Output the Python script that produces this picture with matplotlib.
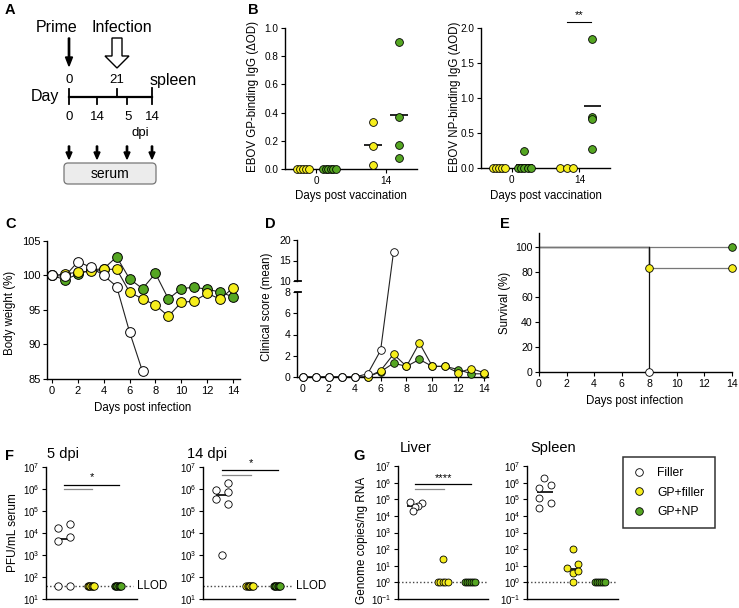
import numpy as np
import matplotlib
matplotlib.use("Agg")
import matplotlib.pyplot as plt
from matplotlib.patches import FancyArrow, FancyBboxPatch
from matplotlib.lines import Line2D
from matplotlib.ticker import NullLocator, FixedLocator

plt.rcParams['font.family'] = ['Liberation Sans', 'DejaVu Sans']
plt.rcParams['font.size'] = 7
plt.rcParams['axes.linewidth'] = 1.0
plt.rcParams['xtick.major.size'] = 3
plt.rcParams['ytick.major.size'] = 3
plt.rcParams['xtick.major.pad'] = 2
plt.rcParams['ytick.major.pad'] = 1.5
plt.rcParams['xtick.labelsize'] = 7.2
plt.rcParams['ytick.labelsize'] = 7.2

# ---------------- data ----------------
groups = ['Filler', 'GP+filler', 'GP+NP']

# B: binding IgG (dOD), day 0 and day 14 post vaccination
b_days = ['0', '14']
gp_gpf = [[0, 0, 0, 0, 0], [0.33, 0.16, 0.03]]
gp_gpnp = [[0, 0, 0, 0, 0, 0], [0.90, 0.37, 0.17, 0.08]]
np_gpf = [[0, 0, 0, 0, 0], [0, 0, 0]]
np_gpnp = [[0.25, 0, 0, 0, 0, 0], [1.85, 0.73, 0.70, 0.27]]

# C: body weight (%)
days = list(range(15))
bw_filler = [100, 99.9, 102.0, 101.2, 100.0, 98.4, 91.8, 86.1]
bw_gpf = [100, 100.2, 100.5, 100.6, 100.9, 100.9, 97.6, 96.6, 95.7, 94.1,
          96.1, 96.3, 97.4, 96.6, 98.2]
bw_gpnp = [100, 99.4, 100.2, 100.8, 101.0, 102.7, 99.5, 98.1, 100.3, 96.6,
           98.1, 98.3, 98.0, 97.6, 96.9]

# D: clinical score (mean)
cs_filler = [0, 0, 0, 0, 0, 0.3, 2.5, 17.1]
cs_gpf = [0, 0, 0, 0, 0, 0, 0.6, 2.15, 1.0, 3.2, 1.0, 1.0, 0.4, 0.8, 0.4]
cs_gpnp = [0, 0, 0, 0, 0, 0, 0.5, 1.3, 1.0, 1.65, 1.0, 1.0, 0.7, 0.3, 0.3]

# E: survival (%)
sv_filler_t, sv_filler = [0, 8], [100, 0]
sv_gpf_t, sv_gpf = [0, 8, 14], [100, 83.3, 83.3]
sv_gpnp_t, sv_gpnp = [0, 14], [100, 100]

# F: PFU/mL serum
llod = 40
f5_filler = [1.7e4, 4.2e3, 40, 2.6e4, 6.8e3, 40]
f5_gpf = [40] * 6
f5_gpnp = [40] * 6
f14_filler = [9e5, 3.5e5, 1.8e6, 7e5, 2.1e5, 1e3]
f14_gpf = [40] * 6
f14_gpnp = [40] * 6

# G: genome copies/ng RNA
g_lod = 1
liv_filler = [6.6e4, 5.8e4, 3.9e4, 3.4e4, 1.9e4]
liv_gpf = [25, 1, 1, 1, 1, 1]
liv_gpnp = [1] * 6
spl_filler = [2e6, 7e5, 4.6e5, 1.2e5, 6e4, 2.8e4]
spl_gpf = [95, 7.3, 13, 3.7, 4.9, 1]
spl_gpnp = [1] * 6

# ---------------- layout / style ----------------
W, H = 739, 608
YEL = '#F6EE1C'
GRN = '#55A622'
COLS = ['white', YEL, GRN]
LAB = 8.3

# horizontal jitter of the scattered filler points (in group widths)
f5_filler_dx = [-0.22, -0.22, -0.22, 0.22, 0.22, 0.22]
f14_filler_dx = [-0.22, -0.22, 0.22, 0.22, 0.22, 0.0]
liv_filler_dx = [-0.18, 0.25, 0.11, 0.0, -0.07]
spl_filler_dx = [-0.04, 0.22, -0.22, -0.22, 0.22, -0.22]
spl_gpf_dx = [0.0, -0.2, 0.2, 0.0, 0.2, 0.0]

fig = plt.figure(figsize=(W / 100, H / 100), dpi=100)


def px_axes(x0, y0, x1, y1):
    ax = fig.add_axes([x0 / W, 1 - y1 / H, (x1 - x0) / W, (y1 - y0) / H])
    ax.spines['top'].set_visible(False)
    ax.spines['right'].set_visible(False)
    ax.patch.set_alpha(0)
    return ax


def ftext(x, y, s, **kw):
    fig.text(x / W, 1 - y / H, s, **kw)


def spread(vals, w):
    vals = np.asarray(vals, float)
    dx = np.zeros(len(vals))
    for v in np.unique(vals):
        idx = np.where(vals == v)[0]
        if len(idx) > 1:
            dx[idx] = np.linspace(-w, w, len(idx))
    return dx


def dots(ax, x, vals, color, ms, dx=None, w=0.0, z=3):
    vals = np.asarray(vals, float)
    if dx is None:
        dx = spread(vals, w)
    ax.plot(x + np.asarray(dx), vals, 'o', ms=ms, mfc=color, mec='black',
            mew=0.6, ls='none', clip_on=False, zorder=z)


def bar(ax, x, y, hw, lw=1.2):
    ax.plot([x - hw, x + hw], [y, y], color='black', lw=lw, zorder=2,
            clip_on=False, solid_capstyle='butt')


# ---------------- panel A (schematic) ----------------
ov = fig.add_axes([0, 0, 1, 1])
ov.set_xlim(0, W)
ov.set_ylim(H, 0)
ov.axis('off')
ov.text(57, 27, 'Prime', fontsize=11.5, ha='center', va='center')
ov.text(122, 27, 'Infection', fontsize=11.5, ha='center', va='center')
ov.add_patch(FancyArrow(69, 38, 0, 28, width=1.3, head_width=7, head_length=9,
                        length_includes_head=True, color='black'))
ov.add_patch(FancyArrow(117, 38, 0, 30, width=10, head_width=24, head_length=12,
                        length_includes_head=True, fc='white', ec='black', lw=1.0))
ov.text(69, 80, '0', fontsize=9.5, ha='center', va='center')
ov.text(117, 80, '21', fontsize=9.5, ha='center', va='center')
ov.text(150, 80, 'spleen', fontsize=11.5, ha='left', va='center')
ov.text(45, 96, 'Day', fontsize=11.5, ha='center', va='center')
ov.plot([69, 152], [97, 97], color='black', lw=1.6)
for xx, ya, yb in [(69, 89, 104), (97, 97, 104), (117, 89, 97),
                   (127, 97, 104), (152, 88, 104)]:
    ov.plot([xx, xx], [ya, yb], color='black', lw=1.3)
for xx, s in [(69, '0'), (97, '14'), (128, '5'), (152, '14')]:
    ov.text(xx, 117, s, fontsize=9.5, ha='center', va='center')
ov.text(140, 133, 'dpi', fontsize=9.5, ha='center', va='center')
for xx in [69, 97, 127, 152]:
    ov.add_patch(FancyArrow(xx, 146, 0, 13, width=1.3, head_width=6, head_length=7,
                            length_includes_head=True, color='black'))
ov.add_patch(FancyBboxPatch((64, 163), 92, 21, boxstyle='round,pad=0,rounding_size=4',
                            fc='#ececec', ec='#777777', lw=0.9))
ov.text(110, 173.5, 'serum', fontsize=10, ha='center', va='center')

# panel letters
for x, y, s in [(5, 10, 'A'), (248, 10, 'B'), (5, 224, 'C'), (265, 224, 'D'),
                (500, 224, 'E'), (5, 456, 'F'), (353, 456, 'G')]:
    ftext(x, y, s, fontsize=10.5, fontweight='bold', ha='left', va='center')

# ---------------- panel B ----------------
for box, d_gpf, d_gpnp, ymax, ystep, lab, lx in [
        ((285, 28, 417, 169), gp_gpf, gp_gpnp, 1.0, 0.2,
         'EBOV GP-binding IgG (\u0394OD)', 253),
        ((481, 28, 610, 168), np_gpf, np_gpnp, 2.0, 0.5,
         'EBOV NP-binding IgG (\u0394OD)', 455)]:
    ax = px_axes(*box)
    ax.set_ylim(0, ymax)
    ax.set_xlim(-0.45, 1.45)
    ax.set_yticks(np.arange(0, ymax + 1e-9, ystep))
    ax.yaxis.set_major_formatter(plt.FormatStrFormatter('%.1f'))
    ax.set_xticks([0, 1])
    ax.set_xticklabels(b_days)
    for i in range(2):
        for vals, col, off in [(d_gpf[i], YEL, -0.19), (d_gpnp[i], GRN, 0.19)]:
            bar(ax, i + off, np.mean(vals), 0.13)
            dots(ax, i + off, vals, col, 5.6, w=0.09)
    ftext(lx, 97, lab, rotation=90, ha='center', va='center', fontsize=LAB)
    ftext((box[0] + box[2]) / 2, 196, 'Days post vaccination', ha='center',
          va='center', fontsize=LAB)
    if ymax == 2.0:
        ax.plot([0.81, 1.17], [2.08, 2.08], color='black', lw=0.8, clip_on=False)
        ax.text(0.99, 2.12, '**', ha='center', va='bottom', fontsize=8)

# ---------------- panel C ----------------
ax = px_axes(47, 241, 240, 379)
ax.set_xlim(-0.39, 14.54)
ax.set_ylim(85, 105)
ax.set_xticks(range(0, 15, 2))
ax.set_yticks(range(85, 106, 5))
ax.tick_params(labelsize=8)
for vals, col in [(bw_gpnp, GRN), (bw_gpf, YEL), (bw_filler, 'white')]:
    ax.plot(days[:len(vals)], vals, '-o', color='#222222', lw=0.8, ms=7,
            mfc=col, mec='black', mew=0.7, clip_on=False)
ftext(10, 313, 'Body weight (%)', rotation=90, ha='center', va='center', fontsize=LAB)
ftext(143, 408, 'Days post infection', ha='center', va='center', fontsize=LAB)


# ---------------- panel D (broken y axis) ----------------
def d_fwd(y):
    y = np.asarray(y, float)
    return np.where(y <= 8, y * 10.625,
                    np.where(y <= 10, 85 + (y - 8) * 5.5, 96 + (y - 10) * 4.1))


def d_inv(p):
    p = np.asarray(p, float)
    return np.where(p <= 85, p / 10.625,
                    np.where(p <= 96, 8 + (p - 85) / 5.5, 10 + (p - 96) / 4.1))


ax = px_axes(297, 240, 488, 377)
ax.set_yscale('function', functions=(d_fwd, d_inv))
ax.set_xlim(-0.46, 14.3)
ax.set_ylim(0, 20)
ax.yaxis.set_major_locator(FixedLocator([0, 2, 4, 6, 8, 10, 15, 20]))
ax.yaxis.set_minor_locator(NullLocator())
ax.yaxis.set_major_formatter(plt.FormatStrFormatter('%d'))
ax.set_xticks(range(0, 15, 2))
ax.tick_params(labelsize=7.6)
ax.spines['left'].set_visible(False)
yt = ax.get_yaxis_transform()
ax.plot([0, 0], [0, 8], color='black', lw=1.0, transform=yt, clip_on=False)
ax.plot([0, 0], [10, 20], color='black', lw=1.0, transform=yt, clip_on=False)
for yb in [8, 10]:
    ax.plot([-0.012, 0.02], [yb, yb], color='black', lw=1.3, transform=yt, clip_on=False)
for vals, col in [(cs_gpnp, GRN), (cs_gpf, YEL), (cs_filler, 'white')]:
    ax.plot(days[:len(vals)], vals, '-', color='#222222', lw=0.8, zorder=2)
    ax.plot(days[:len(vals)], vals, 'o', ms=5.5, mfc=col, mec='black', mew=0.6,
            clip_on=False, zorder=3)
ftext(267, 307, 'Clinical score (mean)', rotation=90, ha='center', va='center', fontsize=LAB)

# ---------------- panel E ----------------
ax = px_axes(539, 233, 732, 372)
ax.set_xlim(0, 14)
ax.set_ylim(0, 111)
ax.set_xticks(range(0, 15, 2))
ax.set_yticks(range(0, 101, 20))
ax.tick_params(labelsize=7.6)
for t, s, col, lc in [(sv_filler_t, sv_filler, 'white', '#111111'),
                      (sv_gpf_t, sv_gpf, YEL, '#777777'),
                      (sv_gpnp_t, sv_gpnp, GRN, '#777777')]:
    ax.plot(t, s, drawstyle='steps-post', color=lc, lw=0.9, clip_on=False)
    ax.plot(t[1:], s[1:], 'o', ms=5.5, mfc=col, mec='black', mew=0.6,
            clip_on=False, zorder=4)
ax.plot([8, 8], [100, 83.3], color='#111111', lw=0.9)
ftext(505, 303, 'Survival (%)', rotation=90, ha='center', va='center', fontsize=LAB)
ftext(635, 401, 'Days post infection', ha='center', va='center', fontsize=LAB)


# ---------------- panels F and G (log scale) ----------------
def log_axes(box, ylo, xlim):
    ax = px_axes(*box)
    ax.set_yscale('log')
    ax.set_ylim(ylo, 1e7)
    ax.set_xlim(*xlim)
    ax.yaxis.set_major_locator(FixedLocator(10.0 ** np.arange(np.log10(ylo), 7.5)))
    ax.yaxis.set_minor_locator(NullLocator())
    ax.set_xticks([])
    ax.spines['bottom'].set_linewidth(1.0)
    ax.tick_params(axis='y', labelsize=7)
    return ax


def sig(ax, y_gray, y_black, star, x_end=2.04):
    ax.plot([0, 1.04], [y_gray, y_gray], color='#888888', lw=0.9, clip_on=False)
    ax.plot([0, x_end], [y_black, y_black], color='black', lw=0.9, clip_on=False)
    ax.text(1.04, y_black * 1.25, star, ha='center', va='bottom', fontsize=8)


for box, xlim, fil, fdx, gpf, gpnp, title, tx, gy, by in [
        ((46, 467, 137, 599), (-0.67, 2.7), f5_filler, f5_filler_dx, f5_gpf, f5_gpnp,
         '5 dpi', 47, 1e6, 1.6e6),
        ((203, 467, 295, 599), (-0.69, 2.65), f14_filler, f14_filler_dx, f14_gpf, f14_gpnp,
         '14 dpi', 187, 4.3e6, 7e6)]:
    ax = log_axes(box, 1e1, xlim)
    ax.plot([xlim[0], 2.55], [llod, llod], ls=(0, (1, 1.6)), color='#444444', lw=1.0,
            zorder=1)
    ax.text(2.7, llod, 'LLOD', ha='left', va='center', fontsize=8.3)
    bar(ax, 0, np.median(fil), 0.2)
    dots(ax, 0, fil, 'white', 5.3, dx=fdx)
    dots(ax, 1, gpf, YEL, 5.3, w=0.12)
    dots(ax, 2, gpnp, GRN, 5.3, w=0.12)
    sig(ax, gy, by, '*')
    ftext(tx, 454, title, ha='left', va='center', fontsize=10.5)
ftext(13, 533, 'PFU/mL serum', rotation=90, ha='center', va='center', fontsize=8.5)

for box, xlim, fil, fdx, gpf, gdx, gpnp, title, tx in [
        ((398, 466, 488, 599), (-0.62, 2.65), liv_filler, liv_filler_dx, liv_gpf, None,
         liv_gpnp, 'Liver', 400),
        ((527, 466, 618, 599), (-0.65, 2.65), spl_filler, spl_filler_dx, spl_gpf, spl_gpf_dx,
         spl_gpnp, 'Spleen', 530)]:
    ax = log_axes(box, 1e-1, xlim)
    ax.plot([xlim[0], 2.6], [g_lod, g_lod], ls=(0, (1, 1.6)), color='#444444', lw=1.0,
            zorder=1)
    bar(ax, 0, np.median(fil), 0.28)
    dots(ax, 0, fil, 'white', 5.0, dx=fdx)
    if gdx is not None:
        bar(ax, 1, np.median(gpf), 0.17)
        dots(ax, 1, gpf, YEL, 5.0, dx=gdx)
    else:
        dots(ax, 1, gpf, YEL, 5.0, w=0.18)
    dots(ax, 2, gpnp, GRN, 5.0, w=0.18)
    if title == 'Liver':
        sig(ax, 4e5, 8e5, '****')
    ftext(tx, 448, title, ha='left', va='center', fontsize=10.5)
ftext(362, 540, 'Genome copies/ng RNA', rotation=90, ha='center', va='center', fontsize=8.5)

# legend
handles = [Line2D([], [], ls='none', marker='o', ms=5.5, mfc=c, mec='black', mew=0.6)
           for c in COLS]
leg = fig.legend(handles, groups, loc='upper left', bbox_to_anchor=(623 / W, 1 - 457 / H),
                 frameon=True, fancybox=False, edgecolor='black', fontsize=8.7,
                 handlelength=1.0, handletextpad=1.0, borderpad=0.85, labelspacing=0.6,
                 borderaxespad=0)
leg.get_frame().set_linewidth(1.1)

fig.savefig('out.png', dpi=100)
